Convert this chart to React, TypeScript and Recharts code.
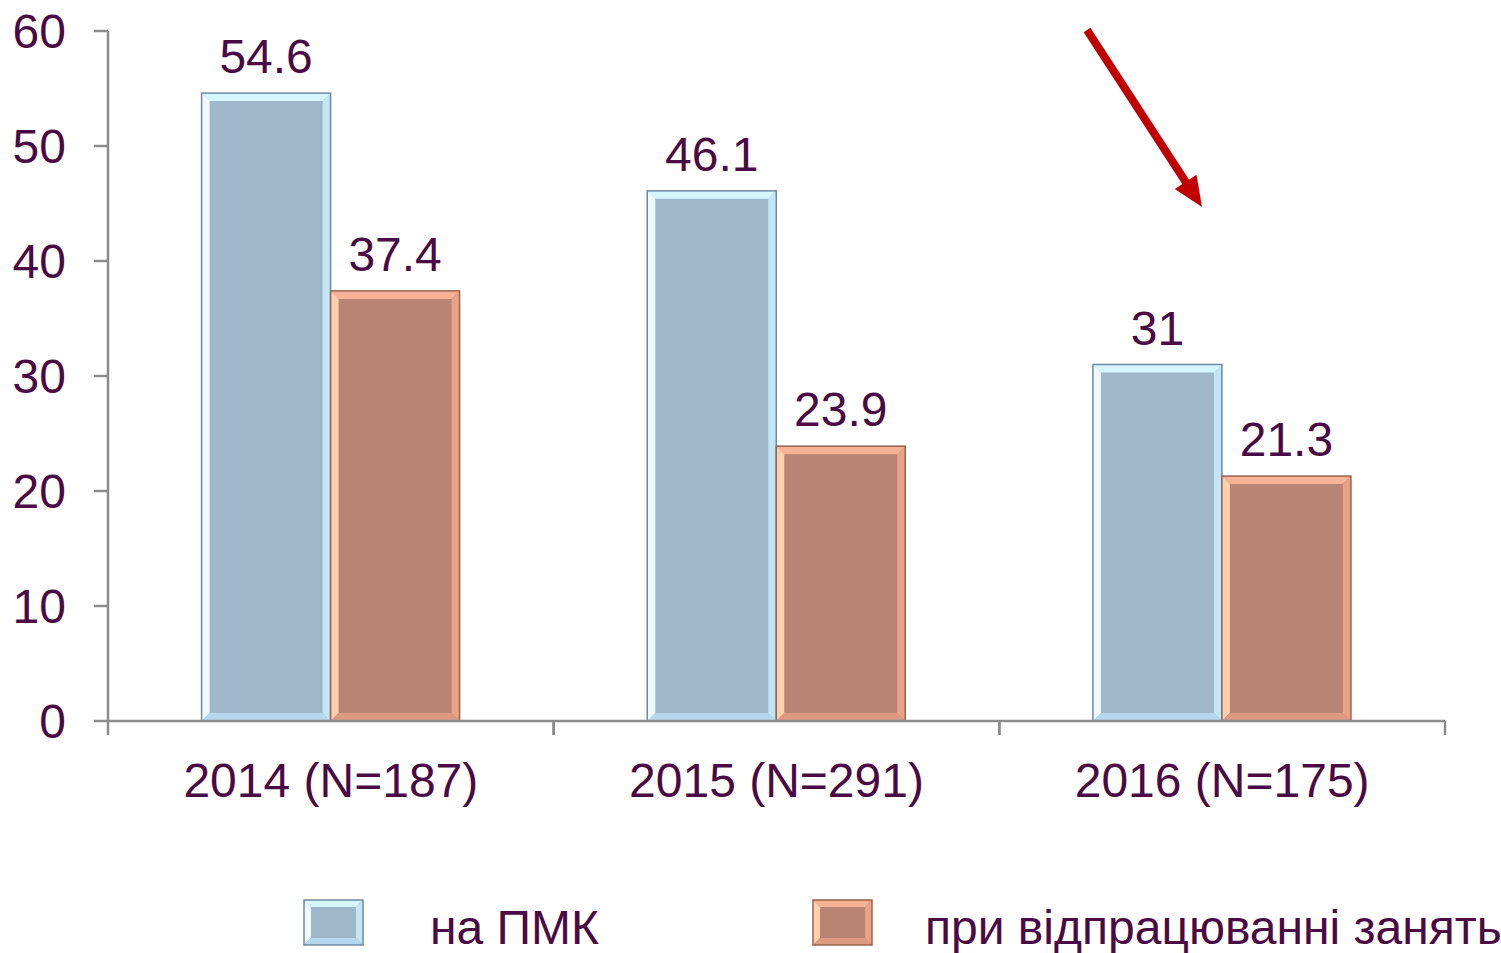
import React from 'react';
import { BarChart, Bar, XAxis, YAxis, LabelList, Legend, Customized } from 'recharts';

const categories = ['2014 (N=187)', '2015 (N=291)', '2016 (N=175)'];
const pmkValues = [54.6, 46.1, 31];
const vidpracValues = [37.4, 23.9, 21.3];
const yTicks = [0, 10, 20, 30, 40, 50, 60];
const seriesNames = ['на ПМК', 'при відпрацюванні занять'];

const data = categories.map((c, i) => ({ cat: c, pmk: pmkValues[i], vid: vidpracValues[i] }));

const TEXT = '#4a0a45';
const FONT = '"Liberation Sans", Arial, sans-serif';
const AXIS = '#8c8c8c';
const FS = 48;

type Pal = { outline: string; top: string; left: string; right: string; bottom: string; inner: string };
const bluePal: Pal = { outline: '#6f8aa0', top: '#d6f5ff', left: '#eefaff', right: '#c3e5f6', bottom: '#b6d8ee', inner: '#9eb8ca' };
const orangePal: Pal = { outline: '#96654f', top: '#f5b294', left: '#ffcfae', right: '#e8a287', bottom: '#de9a80', inner: '#b88473' };

function Bevel({ x, y, w, h, b, pal }: { x: number; y: number; w: number; h: number; b: number; pal: Pal }) {
  if (!(w > 0) || !(h > 0)) return null;
  const bb = Math.min(b, w / 2, h / 2);
  const p = (pts: number[][]) => pts.map((q) => q.join(',')).join(' ');
  return (
    <g>
      <rect x={x} y={y} width={w} height={h} fill={pal.inner} />
      <polygon points={p([[x, y], [x + w, y], [x + w - bb, y + bb], [x + bb, y + bb]])} fill={pal.top} />
      <polygon points={p([[x, y], [x + bb, y + bb], [x + bb, y + h - bb], [x, y + h]])} fill={pal.left} />
      <polygon points={p([[x + w, y], [x + w, y + h], [x + w - bb, y + h - bb], [x + w - bb, y + bb]])} fill={pal.right} />
      <polygon points={p([[x, y + h], [x + bb, y + h - bb], [x + w - bb, y + h - bb], [x + w, y + h]])} fill={pal.bottom} />
      <rect x={x} y={y} width={w} height={h} fill="none" stroke={pal.outline} strokeWidth={1.5} />
    </g>
  );
}

const makeShape = (pal: Pal) => (props: any) => {
  const { x, y, width, height } = props;
  return <Bevel x={x} y={y} w={width} h={height} b={8} pal={pal} />;
};

const ValueLabel = (props: any) => {
  const { x, y, width, value } = props;
  return (
    <text x={x + width / 2} y={y - 20} textAnchor="middle" fill={TEXT} fontSize={FS} fontFamily={FONT}>
      {value}
    </text>
  );
};

const XTick = (props: any) => {
  const { x, y, payload } = props;
  const off = payload && payload.offset ? payload.offset : 1337 / 6;
  return (
    <g>
      <line x1={x - off} y1={y} x2={x - off} y2={y + 14} stroke={AXIS} strokeWidth={2.5} />
      <line x1={x + off} y1={y} x2={x + off} y2={y + 14} stroke={AXIS} strokeWidth={2.5} />
      <text x={x} y={y + 76} textAnchor="middle" fill={TEXT} fontSize={FS} fontFamily={FONT}>
        {payload.value}
      </text>
    </g>
  );
};

const YTick = (props: any) => {
  const { x, y, payload } = props;
  return (
    <text x={x} y={y + 17} textAnchor="end" fill={TEXT} fontSize={FS} fontFamily={FONT}>
      {payload.value}
    </text>
  );
};

const LegendContent = () => {
  const items = [
    { name: seriesNames[0], pal: bluePal, sx: 304, tx: 430 },
    { name: seriesNames[1], pal: orangePal, sx: 813, tx: 925 },
  ];
  return (
    <svg width={1501} height={60} style={{ display: 'block' }}>
      {items.map((it) => (
        <g key={it.name}>
          <Bevel x={it.sx} y={5} w={59} h={45} b={7} pal={it.pal} />
          <text x={it.tx} y={49} fill={TEXT} fontSize={FS} fontFamily={FONT}>
            {it.name}
          </text>
        </g>
      ))}
    </svg>
  );
};

const Arrow = () => {
  const x1 = 1087, y1 = 30, x2 = 1202, y2 = 207;
  const dx = x2 - x1, dy = y2 - y1;
  const len = Math.sqrt(dx * dx + dy * dy);
  const ux = dx / len, uy = dy / len;
  const headLen = 30, headW = 13;
  const bx = x2 - ux * headLen, by = y2 - uy * headLen;
  const nx = -uy, ny = ux;
  return (
    <g>
      <line x1={x1} y1={y1} x2={bx + ux * 2} y2={by + uy * 2} stroke="#c00000" strokeWidth={8} />
      <polygon
        points={`${x2},${y2} ${bx + nx * headW},${by + ny * headW} ${bx - nx * headW},${by - ny * headW}`}
        fill="#c00000"
      />
    </g>
  );
};

export default function App() {
  return (
    <div style={{ position: 'absolute', left: 0, top: 0, width: 1501, height: 953, background: '#fff' }}>
      <BarChart
        width={1501}
        height={953}
        data={data}
        margin={{ top: 31, right: 56, bottom: 202, left: 0 }}
        barCategoryGap="21%"
        barGap={0}
      >
        <YAxis
          width={108}
          domain={[0, 60]}
          ticks={yTicks}
          interval={0}
          tickSize={14}
          tickMargin={28}
          tickLine={{ stroke: AXIS, strokeWidth: 2.5 }}
          axisLine={{ stroke: AXIS, strokeWidth: 2.5 }}
          tick={<YTick />}
        />
        <XAxis
          dataKey="cat"
          height={30}
          tickLine={false}
          tickSize={0}
          tickMargin={0}
          interval={0}
          axisLine={{ stroke: AXIS, strokeWidth: 2.5 }}
          tick={<XTick />}
        />
        <Bar dataKey="pmk" name={seriesNames[0]} fill={bluePal.inner} isAnimationActive={false} shape={makeShape(bluePal)}>
          <LabelList dataKey="pmk" content={<ValueLabel />} />
        </Bar>
        <Bar dataKey="vid" name={seriesNames[1]} fill={orangePal.inner} isAnimationActive={false} shape={makeShape(orangePal)}>
          <LabelList dataKey="vid" content={<ValueLabel />} />
        </Bar>
        <Legend
          layout="vertical"
          align="center"
          verticalAlign="middle"
          content={<LegendContent />}
          wrapperStyle={{ position: 'absolute', left: 0, top: 895, width: 1501, height: 60 }}
        />
        <Customized component={<Arrow />} />
      </BarChart>
    </div>
  );
}
